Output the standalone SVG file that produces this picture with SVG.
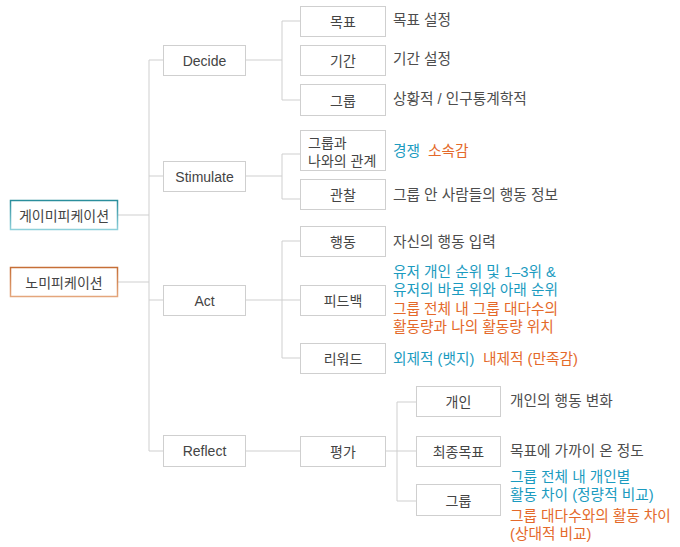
<svg xmlns="http://www.w3.org/2000/svg" width="680" height="547" viewBox="0 0 680 547">
<defs>
<linearGradient id="gTeal" x1="0" y1="0" x2="0" y2="1"><stop offset="0" stop-color="#2a8e9c"/><stop offset="1" stop-color="#8ed0da"/></linearGradient>
<linearGradient id="gOrange" x1="0" y1="0" x2="0" y2="1"><stop offset="0" stop-color="#c66f37"/><stop offset="1" stop-color="#e4a67c"/></linearGradient>
<style>
text{font-family:"Liberation Sans","Noto Sans CJK KR",sans-serif;font-size:14px;fill:#4d4d4d}
.n{text-anchor:middle;fill:#444}
#descriptions text{font-size:14.7px}
.box{fill:#fff;stroke:#cfcfcf;stroke-width:1}
.c{fill:none;stroke:#cfcfcf;stroke-width:1}
#descriptions .b{fill:#1b9bbf}
#descriptions .o{fill:#e4692a}
</style>
</defs>
<rect width="680" height="547" fill="#fff"/>
<g id="connectors">
<path class="c" d="M118,215H149M118,282H149M149,60V451M149,60H163M149,176H163M149,300H163M149,451H163"/>
<path class="c" d="M245,60H282M282,21V100M282,21H300M282,100H300"/>
<path class="c" d="M245,176H282M282,154V199M282,154H300M282,199H300"/>
<path class="c" d="M245,300H300M282,241V358M282,241H300M282,358H300"/>
<path class="c" d="M245,451H300M386,451H416M397,402V501M397,402H416M397,501H416"/>
</g>
<g id="gamification"><rect x="10.5" y="200.5" width="107" height="29" fill="#fff" stroke="url(#gTeal)" stroke-width="1.5"/><text class="n" x="64" y="221">게이미피케이션</text></g>
<g id="nomification"><rect x="10.5" y="267.5" width="107" height="29" fill="#fff" stroke="url(#gOrange)" stroke-width="1.5"/><text class="n" x="64" y="288">노미피케이션</text></g>
<g id="decide"><rect class="box" x="163.5" y="45.5" width="82" height="30"/><text class="n" x="204.5" y="65.5">Decide</text></g>
<g id="stimulate"><rect class="box" x="163.5" y="161.5" width="82" height="30"/><text class="n" x="204.5" y="181.5">Stimulate</text></g>
<g id="act"><rect class="box" x="163.5" y="285.5" width="82" height="30"/><text class="n" x="204.5" y="305.5">Act</text></g>
<g id="reflect"><rect class="box" x="163.5" y="435.5" width="82" height="31"/><text class="n" x="204.5" y="456">Reflect</text></g>
<g id="goal"><rect class="box" x="300.5" y="6.5" width="85" height="30"/><text class="n" x="343" y="27">목표</text></g>
<g id="period"><rect class="box" x="300.5" y="45.5" width="85" height="30"/><text class="n" x="343" y="66">기간</text></g>
<g id="group1"><rect class="box" x="300.5" y="84.5" width="85" height="31"/><text class="n" x="343" y="105.5">그룹</text></g>
<g id="relation"><rect class="box" x="300.5" y="130.5" width="85" height="40"/><text class="n" x="308" y="148" style="text-anchor:start">그룹과</text><text class="n" x="308" y="166" style="text-anchor:start">나와의 관계</text></g>
<g id="observe"><rect class="box" x="300.5" y="179.5" width="85" height="30"/><text class="n" x="343" y="200">관찰</text></g>
<g id="action"><rect class="box" x="300.5" y="226.5" width="85" height="30"/><text class="n" x="343" y="247">행동</text></g>
<g id="feedback"><rect class="box" x="300.5" y="285.5" width="85" height="30"/><text class="n" x="343" y="306">피드백</text></g>
<g id="reward"><rect class="box" x="300.5" y="343.5" width="85" height="30"/><text class="n" x="343" y="364">리워드</text></g>
<g id="evaluate"><rect class="box" x="300.5" y="436.5" width="85" height="30"/><text class="n" x="343" y="457">평가</text></g>
<g id="individual"><rect class="box" x="416.5" y="386.5" width="84" height="30"/><text class="n" x="458.5" y="407">개인</text></g>
<g id="finalgoal"><rect class="box" x="416.5" y="436.5" width="84" height="30"/><text class="n" x="458.5" y="457">최종목표</text></g>
<g id="group2"><rect class="box" x="416.5" y="484.5" width="84" height="31"/><text class="n" x="458.5" y="506">그룹</text></g>
<g id="descriptions">
<text x="393" y="25">목표 설정</text>
<text x="393" y="64">기간 설정</text>
<text x="393" y="104">상황적 / 인구통계학적</text>
<text class="b" x="393" y="156">경쟁</text><text class="o" x="428" y="156">소속감</text>
<text x="393" y="200">그룹 안 사람들의 행동 정보</text>
<text x="393" y="247">자신의 행동 입력</text>
<text class="b" x="393" y="277">유저 개인 순위 및 1–3위 &amp;</text>
<text class="b" x="393" y="295">유저의 바로 위와 아래 순위</text>
<text class="o" x="393" y="314">그룹 전체 내 그룹 대다수의</text>
<text class="o" x="393" y="332">활동량과 나의 활동량 위치</text>
<text class="b" x="393" y="364">외제적 (뱃지)</text><text class="o" x="483" y="364">내제적 (만족감)</text>
<text x="510" y="406">개인의 행동 변화</text>
<text x="510" y="456">목표에 가까이 온 정도</text>
<text class="b" x="510" y="482">그룹 전체 내 개인별</text>
<text class="b" x="510" y="500">활동 차이 (정량적 비교)</text>
<text class="o" x="510" y="521">그룹 대다수와의 활동 차이</text>
<text class="o" x="510" y="539">(상대적 비교)</text>
</g>
</svg>
